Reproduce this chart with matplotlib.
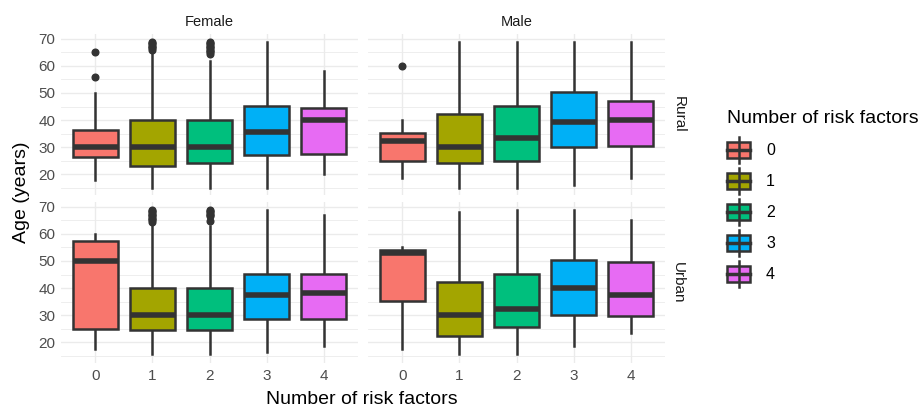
import matplotlib
matplotlib.use("Agg")
import matplotlib.pyplot as plt
from matplotlib.patches import Rectangle
from matplotlib.lines import Line2D

plt.rcParams["font.family"] = ["Liberation Sans", "DejaVu Sans"]

categories = ["0", "1", "2", "3", "4"]
sexes = ["Female", "Male"]
areas = ["Rural", "Urban"]
colors = ["#F8766D", "#A3A500", "#00BF7D", "#00B0F6", "#E76BF3"]
legend_title = "Number of risk factors"

# Female / Rural
fr_lo = [18, 15, 15, 15, 20]
fr_q1 = [26.5, 23, 24, 27, 27.5]
fr_med = [30, 30, 30, 35.4, 40]
fr_q3 = [36.2, 40, 40, 45.2, 44.3]
fr_hi = [50, 65, 62, 69, 58]
fr_out = [[56, 65], [66, 66.5, 67, 67.5, 68, 68.5, 69], [64.5, 65, 65.5, 66, 66.5, 67, 67.5, 68, 68.5, 69], [], []]

# Male / Rural
mr_lo = [18.5, 15, 15, 16, 18.5]
mr_q1 = [25, 24, 25, 30, 30.5]
mr_med = [32.2, 30, 33.2, 39.2, 40]
mr_q3 = [35.2, 42.2, 45.2, 50.2, 47.2]
mr_hi = [40, 69, 69, 69, 69]
mr_out = [[60], [], [], [], []]

# Female / Urban
fu_lo = [17.5, 15.5, 15.5, 16.3, 18.5]
fu_q1 = [24.9, 24.4, 24.4, 28.4, 28.4]
fu_med = [50, 30, 30, 37.4, 38]
fu_q3 = [57.3, 40, 40, 45.2, 45.2]
fu_hi = [60, 63.5, 63, 69, 67]
fu_out = [[], [64.5, 65, 65.5, 66, 66.5, 67, 67.5, 68, 68.5, 69], [64.7, 66.5, 67, 67.5, 68, 68.5, 69], [], []]

# Male / Urban
mu_lo = [17.5, 15.5, 15.5, 18.5, 23.3]
mu_q1 = [35.3, 22.2, 25.5, 30.2, 29.8]
mu_med = [53, 30, 32.3, 40.2, 37.3]
mu_q3 = [54.2, 42.3, 45.2, 50.2, 49.5]
mu_hi = [55, 68, 69, 69, 65]
mu_out = [[], [], [], [], []]

panels = {
    ("Female", "Rural"): (fr_lo, fr_q1, fr_med, fr_q3, fr_hi, fr_out),
    ("Male", "Rural"): (mr_lo, mr_q1, mr_med, mr_q3, mr_hi, mr_out),
    ("Female", "Urban"): (fu_lo, fu_q1, fu_med, fu_q3, fu_hi, fu_out),
    ("Male", "Urban"): (mu_lo, mu_q1, mu_med, mu_q3, mu_hi, mu_out),
}

EDGE = "#333333"
GRID = "#EBEBEB"
W, H = 921, 411
fig = plt.figure(figsize=(W / 100, H / 100), dpi=100)
fig.patch.set_facecolor("white")

col_left = [61, 368]
col_w = 297
row_top = [34, 202]
row_h = 161

for (sex, area), (lo, q1, med, q3, hi, out) in panels.items():
    ci = sexes.index(sex)
    ri = areas.index(area)
    ax = fig.add_axes([col_left[ci] / W, 1 - (row_top[ri] + row_h) / H, col_w / W, row_h / H])
    stats = []
    for i in range(len(categories)):
        stats.append(dict(whislo=lo[i], q1=q1[i], med=med[i], q3=q3[i], whishi=hi[i], fliers=out[i]))
    bp = ax.bxp(stats, positions=range(len(categories)), widths=0.78, patch_artist=True,
                showcaps=False,
                boxprops=dict(edgecolor=EDGE, linewidth=1.8),
                medianprops=dict(color=EDGE, linewidth=4, solid_capstyle="butt"),
                whiskerprops=dict(color=EDGE, linewidth=1.8),
                flierprops=dict(marker="o", markerfacecolor=EDGE, markeredgecolor=EDGE, markersize=4.8))
    for patch, c in zip(bp["boxes"], colors):
        patch.set_facecolor(c)
    for z in bp["whiskers"]:
        z.set_zorder(1.5)
    ax.set_xlim(-0.6, 4.6)
    ax.set_ylim(12.3, 71.8)
    ax.set_yticks([20, 30, 40, 50, 60, 70])
    ax.set_yticks([15, 25, 35, 45, 55, 65], minor=True)
    ax.set_xticks(range(len(categories)))
    ax.set_xticklabels(categories)
    ax.grid(True, which="major", color=GRID, linewidth=1.0, zorder=0)
    ax.grid(True, which="minor", axis="y", color=GRID, linewidth=0.6, zorder=0)
    ax.set_axisbelow(True)
    for s in ax.spines.values():
        s.set_visible(False)
    ax.tick_params(length=0, which="both", labelsize=11, colors="#4D4D4D", pad=4)
    if ci == 1:
        ax.tick_params(labelleft=False)
        ax.text(1.045, 0.5, area, transform=ax.transAxes, rotation=270, ha="center", va="center",
                fontsize=11, color="#1A1A1A")
    if ri == 0:
        ax.tick_params(labelbottom=False)
        ax.set_title(sex, fontsize=10.5, color="#1A1A1A", pad=6)

fig.text(21 / W, 1 - 192 / H, "Age (years)", rotation=90, ha="center", va="center", fontsize=14, color="black")
fig.text(362 / W, 1 - 399 / H, "Number of risk factors", ha="center", va="center", fontsize=14, color="black")

# legend drawn in a pixel-coordinate overlay axes
lax = fig.add_axes([0, 0, 1, 1], facecolor="none")
lax.set_xlim(0, W)
lax.set_ylim(H, 0)
lax.axis("off")
lax.text(727, 118, legend_title, ha="left", va="center", fontsize=14, color="black")
key_x0, key_w, key_h, key_whisk = 727, 23, 16, 13
for i, (lab, c) in enumerate(zip(categories, colors)):
    yc = 150 + i * 31
    cx = key_x0 + key_w / 2
    lax.add_line(Line2D([cx, cx], [yc - key_whisk, yc + key_whisk], color=EDGE, lw=1.8))
    lax.add_patch(Rectangle((key_x0, yc - key_h / 2), key_w, key_h, facecolor=c, edgecolor=EDGE, lw=1.8))
    lax.add_line(Line2D([key_x0, key_x0 + key_w], [yc, yc], color=EDGE, lw=2.5))
    lax.text(766, yc, lab, ha="left", va="center", fontsize=11.5, color="black")

fig.savefig("out.png", dpi=100, facecolor="white")
